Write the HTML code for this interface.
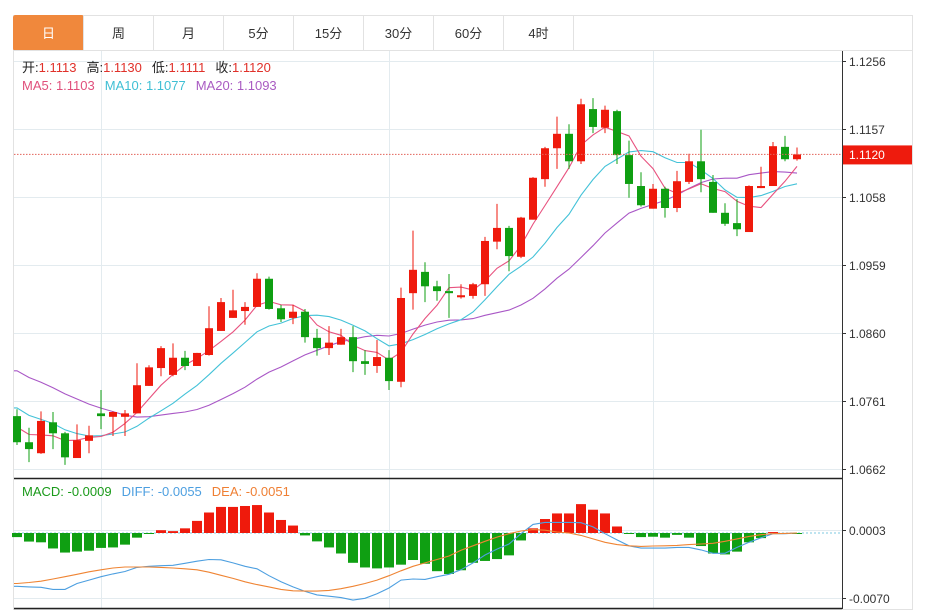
<!DOCTYPE html>
<html><head><meta charset="utf-8">
<style>
body{margin:0;background:#fff;width:941px;height:612px;overflow:hidden;font-family:"Liberation Sans","Noto Sans CJK SC",sans-serif;}
svg{position:absolute;left:0;top:0}
</style></head>
<body>
<svg id="c" width="941" height="612"></svg>
<script>
// ---- data ----
const opens=[1.0739,1.0701,1.0685,1.0730,1.0714,1.0678,1.0703,1.0743,1.0738,1.0738,1.0743,1.0783,1.0809,1.0799,1.0824,1.0812,1.0828,1.0863,1.0882,1.0892,1.0898,1.0939,1.0896,1.0882,1.0891,1.0853,1.0838,1.0843,1.0854,1.0819,1.0812,1.0824,1.0789,1.0918,1.0949,1.0928,1.0921,1.0912,1.0914,1.0931,1.0993,1.1013,1.0971,1.1025,1.1084,1.1129,1.1150,1.1110,1.1186,1.1159,1.1183,1.1119,1.1074,1.1041,1.1070,1.1042,1.1080,1.1110,1.1080,1.1035,1.1020,1.1007,1.1071,1.1074,1.1131,1.1113];
const closes=[1.0701,1.0691,1.0732,1.0714,1.0679,1.0704,1.0711,1.0739,1.0745,1.0743,1.0784,1.0810,1.0838,1.0824,1.0812,1.0831,1.0867,1.0905,1.0893,1.0898,1.0939,1.0895,1.0880,1.0891,1.0854,1.0838,1.0846,1.0854,1.0819,1.0815,1.0825,1.0790,1.0911,1.0952,1.0928,1.0921,1.0918,1.0915,1.0931,1.0994,1.1013,1.0972,1.1028,1.1086,1.1129,1.1150,1.1110,1.1193,1.1160,1.1185,1.1119,1.1077,1.1046,1.1070,1.1042,1.1081,1.1110,1.1084,1.1035,1.1019,1.1011,1.1074,1.1074,1.1132,1.1113,1.1120];
const highs=[1.0749,1.0722,1.0746,1.0745,1.0716,1.0727,1.0725,1.0777,1.0746,1.0748,1.0816,1.0813,1.0841,1.0845,1.0834,1.0831,1.0899,1.0911,1.0923,1.0905,1.0947,1.0942,1.0901,1.0901,1.0895,1.0866,1.0870,1.0866,1.0870,1.0835,1.0850,1.0835,1.0926,1.1009,1.0963,1.0936,1.0946,1.0931,1.0933,1.1000,1.1048,1.1016,1.1029,1.1087,1.1131,1.1175,1.1164,1.1201,1.1202,1.1191,1.1185,1.1140,1.1094,1.1077,1.1073,1.1096,1.1121,1.1156,1.1090,1.1049,1.1055,1.1075,1.1102,1.1138,1.1147,1.1130];
const lows=[1.0697,1.0672,1.0684,1.0691,1.0668,1.0678,1.0685,1.0720,1.0710,1.0710,1.0743,1.0783,1.0797,1.0797,1.0806,1.0812,1.0827,1.0863,1.0882,1.0872,1.0898,1.0894,1.0876,1.0873,1.0846,1.0827,1.0828,1.0843,1.0803,1.0799,1.0802,1.0777,1.0781,1.0894,1.0905,1.0907,1.0882,1.0910,1.0910,1.0914,1.0982,1.0950,1.0969,1.1025,1.1073,1.1099,1.1099,1.1106,1.1151,1.1151,1.1106,1.1057,1.1044,1.1041,1.1028,1.1036,1.1077,1.1065,1.1035,1.1016,1.1001,1.1007,1.1071,1.1074,1.1110,1.1111];
const priorCloses=[1.0885,1.0870,1.0875,1.0860,1.0850,1.0862,1.0855,1.0845,1.0850,1.0838,1.0800,1.0790,1.0775,1.0770,1.0760,1.0745,1.0735,1.0720,1.0714];
const priceTicks=[1.1256,1.1157,1.1058,1.0959,1.0860,1.0761,1.0662];
// MACD values in units of 0.0001
const hist=[-4.4,-9.2,-10,-16.6,-21,-20,-19,-16,-15.5,-12.5,-5,-1,3,2,5,13,22,28,28,29,30,22,14,8,-2.6,-9,-15.5,-22,-32,-37,-38,-37,-34,-29,-33,-41,-44,-40,-32,-30,-28,-24,-8,5,15,21,21,31,25,21,7,-0.5,-4.4,-4,-5,-2,-5,-14,-22,-23,-20,-10,-5.5,1,-1,-0.5];
const diff=[-57.2,-57.9,-58.3,-60.5,-60.5,-54.2,-50.6,-46.9,-43.9,-41.3,-36.9,-35.8,-35.1,-34.7,-32.5,-30.3,-28.4,-28.8,-32.1,-35.8,-38.4,-45.8,-52.4,-57.9,-62.7,-66.4,-67.9,-69.4,-72,-70.1,-65.3,-59,-50.6,-49.4,-49.8,-46.9,-44.3,-39.5,-32.1,-23.6,-17.3,-11.8,-0.7,9.2,11.4,11.4,11.4,11.1,6.6,-0.7,-7.4,-13.7,-16.2,-16.2,-16.2,-15.5,-15.5,-18.1,-21.8,-21.8,-15.5,-10,-5.2,-0.7,-0.7,0];
const dea=[-54.2,-53.1,-51.7,-49.4,-46.9,-44.3,-41.7,-39.5,-37.6,-36.5,-36.5,-36.5,-36.9,-37.6,-38.4,-39.5,-42.1,-45.4,-48.7,-52.4,-55.4,-57.9,-60.5,-62,-62.4,-62.4,-61.6,-59.8,-57.2,-54.2,-50.6,-45.8,-40.6,-35.8,-32.1,-28.4,-24.7,-18.5,-13.7,-8.9,-4.4,-0.7,2.2,3.7,3,1.1,0,-2.6,-6.3,-10,-12.5,-13.7,-14.4,-14,-13.7,-13.3,-12.5,-11.8,-11.1,-8.9,-6.3,-3.7,-1.8,-0.7,-0.4,0];
const macdTicks=[3,-70];
const tabs=["日","周","月","5分","15分","30分","60分","4时"];

// ---- scales ----
const NS="http://www.w3.org/2000/svg";
const svg=document.getElementById('c');
const X0=17, STEP=12;
const xs=i=>X0+i*STEP;
const yP=p=>61+(1.1256-p)*6869;
const yM=v=>533-v*0.9315;
const RED="#ef1a0c",GREEN="#0f9f12";
function mk(t,a,parent){const e=document.createElementNS(NS,t);for(const k in a)e.setAttribute(k,a[k]);(parent||svg).appendChild(e);return e;}

let e;
e=mk('rect',{x:13.5,y:15.5,width:899,height:594,fill:'#fff',stroke:'#e2e2e2'});


tabs.forEach((t,i)=>{
  const g=mk('g',{});
  
  
  mk('rect',{x:13.5+i*70,y:15.5,width:70,height:35,fill:i==0?'#f0883c':'#fff',stroke:i==0?'#f0883c':'#e2e2e2',rx:i==0?2:0},g);
  const tx=mk('text',{x:48.5+i*70,y:38,'text-anchor':'middle','font-size':13,fill:i==0?'#fff':'#333'},g);
  tx.textContent=t;
});
mk('line',{x1:13,y1:50.5,x2:912,y2:50.5,stroke:'#e2e2e2'});

priceTicks.forEach(p=>{
  const y=Math.round(yP(p))+0.5;
  e=mk('line',{x1:14,y1:y,x2:842,y2:y,stroke:'#e3ebef'});
  
  
  mk('line',{x1:842,y1:y,x2:846,y2:y,stroke:'#333'});
  e=mk('text',{x:849,y:y+4.5,'font-size':12,fill:'#333'});
  e.textContent=p.toFixed(4);
  
  
});
[7,31,53].forEach(i=>{
  const x=Math.round(xs(i))+0.5;
  mk('line',{x1:x,y1:51,x2:x,y2:609,stroke:'#e3ebef'});
});
macdTicks.forEach(v=>{
  const y=Math.round(yM(v))+0.5;
  mk('line',{x1:14,y1:y,x2:842,y2:y,stroke:'#e3ebef'});
  mk('line',{x1:842,y1:y,x2:846,y2:y,stroke:'#333'});
  e=mk('text',{x:849,y:y+4.5,'font-size':12,fill:'#333'});
  e.textContent=(v/10000).toFixed(4);
  
  
});
mk('line',{x1:842.5,y1:51,x2:842.5,y2:609,stroke:'#333'});
mk('line',{x1:14,y1:478.5,x2:842,y2:478.5,stroke:'#222',"stroke-width":1.5});
mk('line',{x1:14,y1:608.5,x2:842,y2:608.5,stroke:'#222',"stroke-width":1.5});

const all=priorCloses.concat(closes);
function ma(n){const r=[];for(let i=0;i<closes.length;i++){const j=i+priorCloses.length;let s=0;for(let k=j-n+1;k<=j;k++)s+=all[k];r.push(s/n);}return r;}
[[20,'#a957c6','ma20-line'],[10,'#43c2d8','ma10-line'],[5,'#e8527f','ma5-line']].forEach(([n,c,nm])=>{
  const m=ma(n);
  const pts=m.map((v,i)=>xs(i).toFixed(1)+','+yP(v).toFixed(1));
  pts.unshift('14,'+yP(m[0]).toFixed(1));
  e=mk('polyline',{points:pts.join(' '),fill:'none',stroke:c,'stroke-width':1.1});
  
  
});

closes.forEach((c,i)=>{
  const o=opens[i],up=c>=o,col=up?RED:GREEN,x=xs(i);
  const g=mk('g',{});
  
  
  mk('line',{x1:x,y1:yP(highs[i]),x2:x,y2:yP(lows[i]),stroke:col,'stroke-width':1},g);
  const t=yP(Math.max(o,c)),b=yP(Math.min(o,c));
  mk('rect',{x:x-4,y:t,width:8,height:Math.max(1.5,b-t),fill:col},g);
});

const ly=yP(closes[closes.length-1]);
e=mk('line',{x1:14,y1:ly,x2:842,y2:ly,stroke:'#e2635a','stroke-dasharray':'1.5,1.5'});


e=mk('rect',{x:843,y:ly-9,width:69,height:19,fill:'#ee1b0d'});


e=mk('text',{x:849,y:ly+4.5,'font-size':12,fill:'#fff'});
e.textContent=closes[closes.length-1].toFixed(4);

mk('line',{x1:14,y1:yM(0),x2:842,y2:yM(0),stroke:'#7ec9e0','stroke-dasharray':'2,2'});
hist.forEach((v,i)=>{
  const x=xs(i),y0=yM(0),y1=yM(v);
  e=mk('rect',{x:x-5,y:Math.min(y0,y1),width:10,height:Math.max(1,Math.abs(y1-y0)),fill:v>=0?RED:GREEN});
  
  
});
[[diff,'#4d9fe0','diff-line'],[dea,'#ef8433','dea-line']].forEach(([arr,c,nm])=>{
  const pts=arr.map((v,i)=>xs(i).toFixed(1)+','+yM(v).toFixed(1));
  pts.unshift('14,'+yM(arr[0]).toFixed(1));
  e=mk('polyline',{points:pts.join(' '),fill:'none',stroke:c,'stroke-width':1.1});
  
  
});

function legend(y,items,name){
  const t=mk('text',{x:22,y:y,'font-size':13});
  
  
  items.forEach(([s,c,dx])=>{const ts=mk('tspan',{fill:c},t);if(dx)ts.setAttribute('dx',dx);ts.textContent=s;});
}
legend(72,[["开:","#222"],["1.1113","#e0312a"],["高:","#222",10],["1.1130","#e0312a"],["低:","#222",10],["1.1111","#e0312a"],["收:","#222",10],["1.1120","#e0312a"]],'ohlc-legend');
legend(90,[["MA5: 1.1103","#e0507c"],["MA10: 1.1077","#3fbfd4",10],["MA20: 1.1093","#a95bc2",10]],'ma-legend');
legend(496,[["MACD: -0.0009","#1a9a1a"],["DIFF: -0.0055","#4d9fe0",10],["DEA: -0.0051","#ef7f33",10]],'macd-legend');
</script>
</body></html>
